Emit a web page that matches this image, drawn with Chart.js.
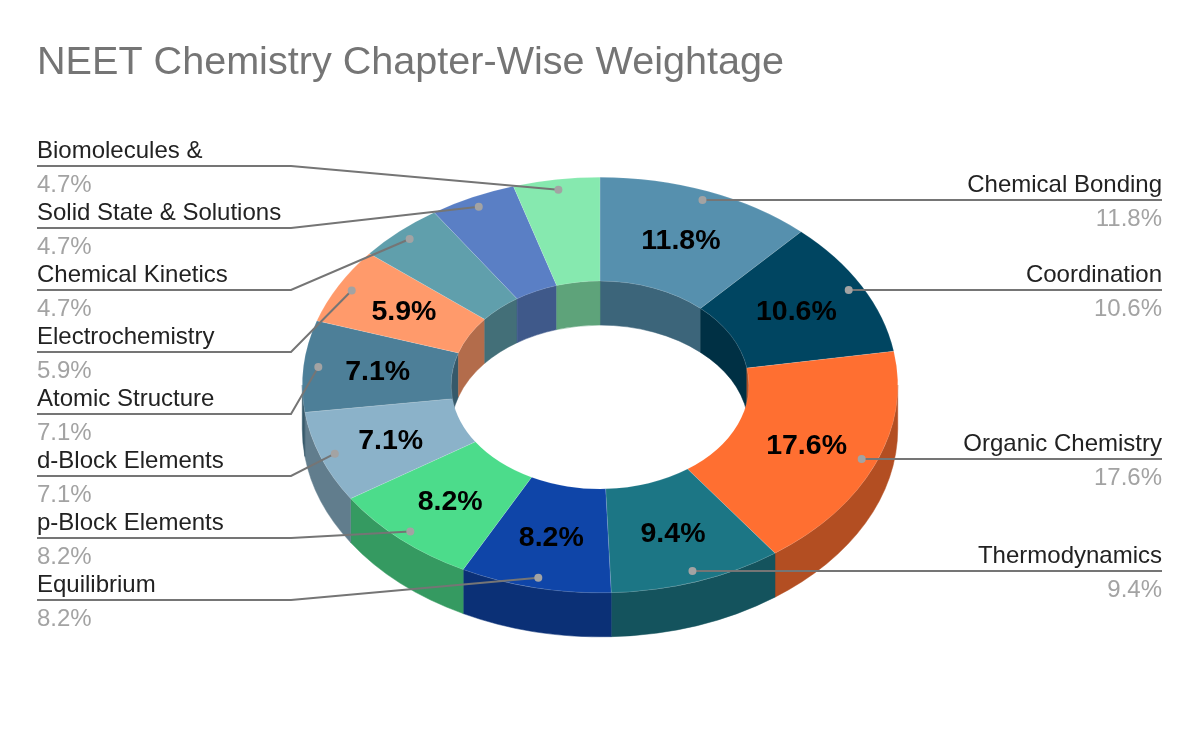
<!DOCTYPE html>
<html>
<head>
<meta charset="utf-8">
<title>NEET Chemistry Chapter-Wise Weightage</title>
<script src="https://cdn.jsdelivr.net/npm/chart.js@4/dist/chart.umd.min.js"></script>
<style>
  html, body { margin: 0; padding: 0; background: #fff; }
  canvas { display: block; }
</style>
</head>
<body>
<canvas id="grafico" width="1200" height="742"></canvas>
<script>
const chapters = [
  "Chemical Bonding", "Coordination", "Organic Chemistry", "Thermodynamics",
  "Equilibrium", "p-Block Elements", "d-Block Elements", "Atomic Structure",
  "Electrochemistry", "Chemical Kinetics", "Solid State & Solutions", "Biomolecules &"
];
const weightage = [11.8, 10.6, 17.6, 9.4, 8.2, 8.2, 7.1, 7.1, 5.9, 4.7, 4.7, 4.7];
const colors = [
  "#5690ae", "#004561", "#ff6f31", "#1c7685",
  "#0f45a8", "#4cdc8b", "#8bb2c9", "#4d7f98",
  "#ff9a6b", "#609fac", "#5a7fc5", "#86e9af"
];

const FONT = '"Liberation Sans", Arial, sans-serif';
const SQUASH = 208 / 298;   // the circle chart.js makes is flattened into the ellipse
const DEPTH = 44;           // height of the 3d wall
const MIN_INNER = 5;        // smaller slices get no label on the ring

function shade(hex) {
  const n = parseInt(hex.slice(1), 16);
  const f = 0.7;
  return `rgb(${(n >> 16) * f},${((n >> 8) & 255) * f},${(n & 255) * f})`;
}

function wall(ctx, x, y, radius, from, to, color) {
  if (to <= from) return;
  ctx.beginPath();
  ctx.ellipse(x, y, radius, radius * SQUASH, 0, from, to);
  ctx.ellipse(x, y + DEPTH, radius, radius * SQUASH, 0, to, from, true);
  ctx.closePath();
  ctx.fillStyle = color;
  ctx.strokeStyle = color;
  ctx.lineWidth = 0.5;
  ctx.fill();
  ctx.stroke();
}

const rosca3d = {
  id: "rosca3d",
  beforeDatasetsDraw(chart) {
    const ctx = chart.ctx;
    const arcs = chart.getDatasetMeta(0).data;
    const PI = Math.PI;
    ctx.save();
    arcs.forEach((arc, i) => {
      const c = shade(colors[i]);
      const a = arc.startAngle, b = arc.endAngle;
      // back of the hole: upper half of the inner circle
      wall(ctx, arc.x, arc.y, arc.innerRadius, Math.max(a, -PI / 2), Math.min(b, 0), c);
      wall(ctx, arc.x, arc.y, arc.innerRadius, Math.max(a, PI), Math.min(b, 1.5 * PI), c);
      // front: lower half of the outer circle
      wall(ctx, arc.x, arc.y, arc.outerRadius, Math.max(a, 0), Math.min(b, PI), c);
    });
    ctx.restore();

    const y0 = arcs[0].y;
    ctx.save();
    ctx.translate(0, y0);
    ctx.scale(1, SQUASH);
    ctx.translate(0, -y0);
  },
  afterDatasetsDraw(chart) {
    const ctx = chart.ctx;
    ctx.restore();

    const arcs = chart.getDatasetMeta(0).data;
    const leftTop = 166, leftStep = 62, leftX = 37, elbowX = 291, rightX = 1162;
    const dots = [];
    let slot = 0;

    for (let i = arcs.length - 1; i >= 0; i--) {
      const arc = arcs[i];
      const mid = (arc.startAngle + arc.endAngle) / 2;
      const r = arc.outerRadius * 0.95;
      const dx = arc.x + Math.cos(mid) * r;
      const dy = arc.y + Math.sin(mid) * r * SQUASH;
      const isLeft = Math.cos(mid) < 0;
      const lineY = isLeft ? leftTop + leftStep * slot++ : Math.floor(dy);

      ctx.beginPath();
      ctx.moveTo(dx, isLeft ? dy : lineY);
      if (isLeft) {
        ctx.lineTo(elbowX, lineY);
        ctx.lineTo(leftX, lineY);
      } else {
        ctx.lineTo(rightX, lineY);
      }
      ctx.strokeStyle = "#757575";
      ctx.lineWidth = 2;
      ctx.stroke();
      dots.push([dx, isLeft ? dy : lineY]);

      ctx.textAlign = isLeft ? "left" : "right";
      ctx.textBaseline = "alphabetic";
      ctx.font = `24px ${FONT}`;
      ctx.fillStyle = "#222222";
      ctx.fillText(chapters[i], isLeft ? leftX : rightX, lineY - 8);
      ctx.fillStyle = "#a3a3a3";
      ctx.fillText(weightage[i].toFixed(1) + "%", isLeft ? leftX : rightX, lineY + 26);

      if (weightage[i] >= MIN_INNER) {
        const p = arc.getCenterPoint();
        ctx.textAlign = "center";
        ctx.textBaseline = "middle";
        ctx.font = `bold 28.5px ${FONT}`;
        ctx.fillStyle = "#000000";
        ctx.fillText(weightage[i].toFixed(1) + "%", p.x, arc.y + (p.y - arc.y) * SQUASH + 1.5);
      }
    }

    ctx.fillStyle = "#a3a3a3";
    dots.forEach(([x, y]) => {
      ctx.beginPath();
      ctx.arc(x, y, 4, 0, Math.PI * 2);
      ctx.fill();
    });
  }
};

new Chart(document.getElementById("grafico"), {
  type: "doughnut",
  data: {
    labels: chapters,
    datasets: [{ data: weightage, backgroundColor: colors, borderColor: "rgba(255,255,255,0.3)", borderWidth: 0.5 }]
  },
  options: {
    responsive: false,
    animation: false,
    cutout: "50%",
    layout: { padding: { left: 37, right: 37, top: 0, bottom: 59 } },
    plugins: {
      legend: { display: false },
      tooltip: { enabled: false },
      title: {
        display: true,
        text: "NEET Chemistry Chapter-Wise Weightage",
        align: "start",
        color: "#757575",
        font: { family: FONT, size: 39.6, weight: "normal", lineHeight: 1.2 },
        padding: { top: 39.2, bottom: 0.3 }
      }
    }
  },
  plugins: [rosca3d]
});
</script>
</body>
</html>
